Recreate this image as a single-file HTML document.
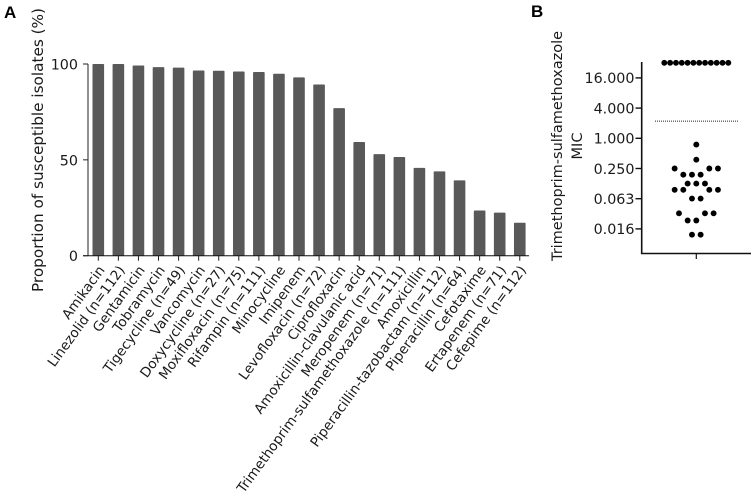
<!DOCTYPE html>
<html><head><meta charset="utf-8">
<style>
html,body{margin:0;padding:0;background:#fff;}
svg{display:block;}
text{font-family:"DejaVu Sans","Liberation Sans",sans-serif;fill:#1a1a1a;}
</style></head>
<body>
<svg id="chart" width="755" height="498" viewBox="0 0 755 498" xmlns="http://www.w3.org/2000/svg">
<text x="4" y="18" style="font-family:'Liberation Sans',sans-serif;font-weight:bold;font-size:17px;fill:#000">A</text>
<text x="531" y="17" style="font-family:'Liberation Sans',sans-serif;font-weight:bold;font-size:17px;fill:#000">B</text>
<text transform="translate(43,150) rotate(-90)" text-anchor="middle" font-size="15" textLength="284" lengthAdjust="spacingAndGlyphs">Proportion of susceptible isolates (%)</text>
<text transform="translate(562,146) rotate(-90)" text-anchor="middle" font-size="14.5">Trimethoprim-sulfamethoxazole</text>
<text transform="translate(582,146) rotate(-90)" text-anchor="middle" font-size="14.5">MIC</text>
<g id="panelA"></g>
<g id="panelB"></g>
</svg>
<script>
const drugLabels = ["Amikacin","Linezolid (n=112)","Gentamicin","Tobramycin","Tigecycline (n=49)","Vancomycin","Doxycycline (n=27)","Moxifloxacin (n=75)","Rifampin (n=111)","Minocycline","Imipenem","Levofloxacin (n=72)","Ciprofloxacin","Amoxicillin-clavulanic acid","Meropenem (n=71)","Trimethoprim-sulfamethoxazole (n=111)","Amoxicillin","Piperacillin-tazobactam (n=112)","Piperacillin (n=64)","Cefotaxime","Ertapenem (n=71)","Cefepime (n=112)"];
const susceptiblePercent = [100,100,99.2,98.4,98.1,96.6,96.5,96.1,95.8,94.9,93,89.3,77,59.3,53,51.5,45.8,44,39.3,23.6,22.5,17.2];
const percentTicks = [0,50,100];
const micTickLabels = ["16.000","4.000","1.000","0.250","0.063","0.016"];
const micTickValues = [16,4,1,0.25,0.0625,0.015625];
const micValues = [32,32,32,32,32,32,32,32,32,32,32,32,0.75,0.375,0.25,0.25,0.25,0.188,0.188,0.188,0.125,0.125,0.125,0.094,0.094,0.094,0.094,0.063,0.063,0.032,0.032,0.032,0.023,0.023,0.012,0.012];
const swarmSlots = [-7.39,-6.05,-4.7,-3.36,-2.02,-0.67,0.67,2.02,3.36,4.7,6.05,7.39,0,0,-5,3,5,-3,-1,1,-2,0,2,-5,-3,3,5,-1,1,-4,2,4,-2,0,-1,1];
const micBreakpoint = 2.2;

const NS = "http://www.w3.org/2000/svg";
function make(parent, tag, attrs) {
  const el = document.createElementNS(NS, tag);
  for (const k in attrs) el.setAttribute(k, attrs[k]);
  parent.appendChild(el);
  return el;
}
const panelA = document.getElementById("panelA");
const panelB = document.getElementById("panelB");

/* Panel A scales */
const yA = v => 255.7 - v * 1.917;
const xA = i => 98.3 + i * 20.07;
const barWidth = 11.6;

susceptiblePercent.forEach((v, i) => {
  const bar = make(panelA, "rect", {x: xA(i) - barWidth / 2, y: yA(v), width: barWidth, height: yA(0) - yA(v), fill: "#595959", rx: 0.8});
  
  
});
const axisAY = make(panelA, "line", {x1: 88, x2: 88, y1: yA(100), y2: yA(0), stroke: "#222", "stroke-width": 1});


const axisAX = make(panelA, "line", {x1: 83, x2: 529, y1: yA(0), y2: yA(0), stroke: "#111", "stroke-width": 1});



percentTicks.forEach(t => {
  const tick = make(panelA, "line", {x1: 83, x2: 88, y1: yA(t), y2: yA(t), stroke: "#222", "stroke-width": 1});
  
  
  const label = make(panelA, "text", {x: 78, y: yA(t) + 5.5, "text-anchor": "end", "font-size": 14.3});
  
  
  label.textContent = t;
});
drugLabels.forEach((name, i) => {
  const tick = make(panelA, "line", {x1: xA(i), x2: xA(i), y1: yA(0), y2: yA(0) + 5, stroke: "#222", "stroke-width": 1});
  
  
  const label = make(panelA, "text", {transform: `translate(${xA(i) + 7},270) rotate(-54)`, "text-anchor": "end", "font-size": 13.6});
  
  
  label.textContent = name;
});

/* Panel B scales */
const yB = v => 138.3 - Math.log2(v) * 15.1;
const xB = s => 696.3 + s * 4.33;

const axisBY = make(panelB, "line", {x1: 641.7, x2: 641.7, y1: 62, y2: 254, stroke: "#111", "stroke-width": 1.6});


const axisBX = make(panelB, "line", {x1: 641, x2: 751, y1: 253.5, y2: 253.5, stroke: "#111", "stroke-width": 1.6});


const tickBX = make(panelB, "line", {x1: 696.3, x2: 696.3, y1: 253.5, y2: 259, stroke: "#111", "stroke-width": 1.2});



micTickValues.forEach((v, i) => {
  const tick = make(panelB, "line", {x1: 635.5, x2: 641.7, y1: yB(v), y2: yB(v), stroke: "#111", "stroke-width": 1.4});
  
  
  const label = make(panelB, "text", {x: 634.5, y: yB(v) + 5.3, "text-anchor": "end", "font-size": 14.3});
  
  
  label.textContent = micTickLabels[i];
});

const bp = make(panelB, "line", {x1: 655, x2: 738, y1: yB(micBreakpoint), y2: yB(micBreakpoint), stroke: "#222", "stroke-width": 0.9, "stroke-dasharray": "1 1"});



micValues.forEach((v, i) => {
  const dot = make(panelB, "circle", {cx: xB(swarmSlots[i]), cy: yB(v), r: 2.95, fill: "#000"});
  
  
});
</script>
</body></html>
